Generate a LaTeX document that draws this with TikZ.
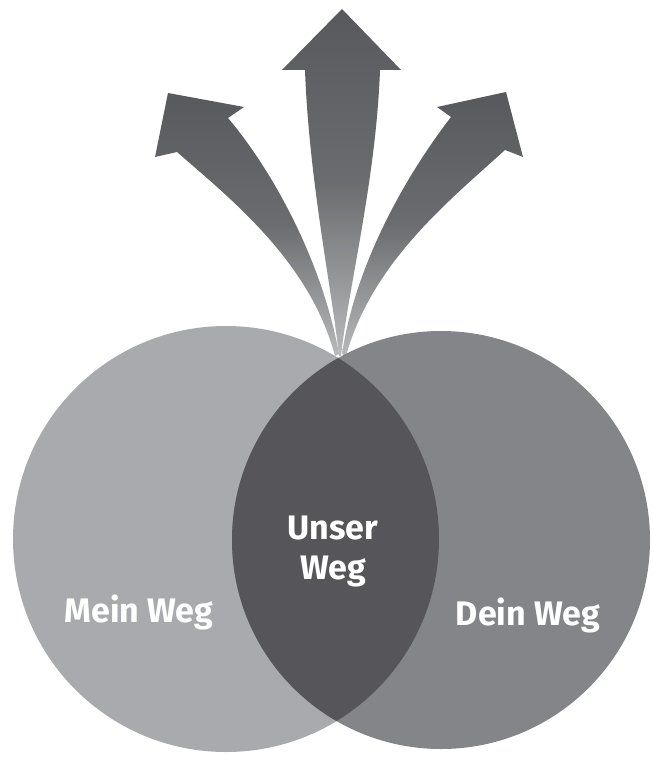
\documentclass[tikz,border=0pt]{standalone}
\usepackage{fontspec}
\newfontfamily\labfont{Fira Sans}
\definecolor{leftgray}{HTML}{A8AAAD}
\definecolor{rightgray}{HTML}{838588}
\definecolor{lensgray}{HTML}{56565A}
\definecolor{arrowdark}{HTML}{58595C}
\definecolor{arrowlight}{HTML}{B8B9BB}
\tikzset{
  arrowshade/.style={top color=arrowdark, bottom color=arrowlight, middle color=arrowdark!80!arrowlight, draw=none},
  lab/.style={text=white, font=\labfont\bfseries\fontsize{34}{37}\selectfont, align=center, inner sep=0pt}
}
\begin{document}
\begin{tikzpicture}[x=1pt,y=-1pt]
\useasboundingbox (0,0) rectangle (652,757);
% arrows
\shade[arrowshade] (342,9) -- (401,70) -- (380,70)
  .. controls (376,180) and (348,290) .. (341,356)
  -- (339,356)
  .. controls (332,290) and (309,180) .. (305,70)
  -- (282,70) -- cycle;
\shade[arrowshade] (168,93) -- (244,107) -- (228,118)
  .. controls (272,170) and (322,260) .. (339,354)
  -- (335,356)
  .. controls (310,262) and (232,200) .. (177,152)
  -- (155,157) -- cycle;
\shade[arrowshade] (506,92) -- (523,157) -- (505,150)
  .. controls (450,200) and (372,262) .. (346,356)
  -- (342,354)
  .. controls (356,260) and (410,170) .. (451,117)
  -- (437,107) -- cycle;
% circles
\fill[leftgray] (226,539) circle[radius=213];
\fill[rightgray] (441,540) circle[radius=209];
\begin{scope}
  \clip (226,539) circle[radius=213];
  \fill[lensgray] (441,540) circle[radius=209];
\end{scope}
% labels
\node[lab, anchor=base] (mein) at (139,622) {Mein Weg};
\node[lab, anchor=base] (dein) at (528,625) {Dein Weg};
\node[lab, anchor=base] (unser) at (333,539) {Unser};
\node[lab, anchor=base] (weg) at (333,579) {Weg};
\end{tikzpicture}
\end{document}
